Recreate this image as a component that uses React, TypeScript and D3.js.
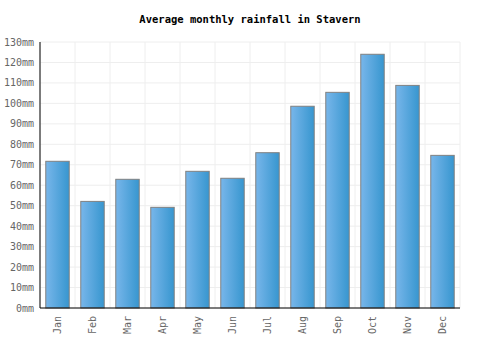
import React from "react";
import * as d3 from "d3";

const months = ["Jan", "Feb", "Mar", "Apr", "May", "Jun", "Jul", "Aug", "Sep", "Oct", "Nov", "Dec"];
const rainfall = [71.7, 52.1, 62.9, 49.2, 66.8, 63.4, 75.9, 98.6, 105.4, 124, 108.8, 74.6];
const yTicks = d3.range(0, 140, 10);

function App() {
  const width = 500;
  const height = 350;
  const marginTop = 42;
  const marginRight = 40;
  const marginBottom = 42;
  const marginLeft = 40;
  const font = "'DejaVu Sans Mono', monospace";

  const x = d3.scaleBand()
    .domain(months)
    .range([marginLeft, width - marginRight])
    .paddingInner(0.33)
    .paddingOuter(0.165);

  // band boundaries for vertical grid
  const step = (width - marginLeft - marginRight) / months.length;
  const xGrid = d3.range(months.length + 1).map(i => marginLeft + i * step);

  const y = d3.scaleLinear([0, 130], [height - marginBottom, marginTop]);

  return (
    <svg width={width} height={height} style={{ position: "absolute", left: 0, top: 0 }}>
      <defs>
        <linearGradient id="barGrad" x1="0%" y1="0%" x2="100%" y2="0%">
          <stop offset="0%" stopColor="#78b6ea" />
          <stop offset="100%" stopColor="#3796cf" />
        </linearGradient>
      </defs>
      <rect width={width} height={height} fill="#fff" />
      <text x={width / 2} y={23} textAnchor="middle" fontFamily={font} fontSize={10.5} fontWeight="bold" fill="#000">
        Average monthly rainfall in Stavern
      </text>

      {/* grid */}
      {yTicks.map(t => (
        <line key={"h" + t} x1={marginLeft} x2={width - marginRight} y1={y(t)} y2={y(t)} stroke="#eee" strokeWidth={1} />
      ))}
      {xGrid.map((gx, i) => (
        <line key={"v" + i} x1={gx} x2={gx} y1={marginTop} y2={height - marginBottom} stroke="#eee" strokeWidth={1} />
      ))}

      {/* bars */}
      {months.map((m, i) => (
        <rect
          key={m}
          x={x(m)}
          y={y(rainfall[i])}
          width={x.bandwidth()}
          height={y(0) - y(rainfall[i])}
          fill="url(#barGrad)"
          stroke="#808080"
          strokeWidth={1}
        />
      ))}

      {/* axes */}
      <line x1={marginLeft} x2={marginLeft} y1={marginTop} y2={height - marginBottom} stroke="#000" strokeWidth={1} />
      <line x1={marginLeft} x2={width - marginRight} y1={height - marginBottom} y2={height - marginBottom} stroke="#000" strokeWidth={1} />

      {yTicks.map(t => (
        <text key={"yl" + t} x={marginLeft - 6} y={y(t) + 3.5} textAnchor="end" fontFamily={font} fontSize={10} fill="#666">
          {t}mm
        </text>
      ))}
      {months.map(m => {
        const cx = (x(m) as number) + x.bandwidth() / 2;
        const ty = height - marginBottom + 8;
        return (
          <text key={"xl" + m} transform={`translate(${cx + 3.5},${ty}) rotate(-90)`} textAnchor="end" fontFamily={font} fontSize={10} fill="#666">
            {m}
          </text>
        );
      })}
    </svg>
  );
}

export default App;
